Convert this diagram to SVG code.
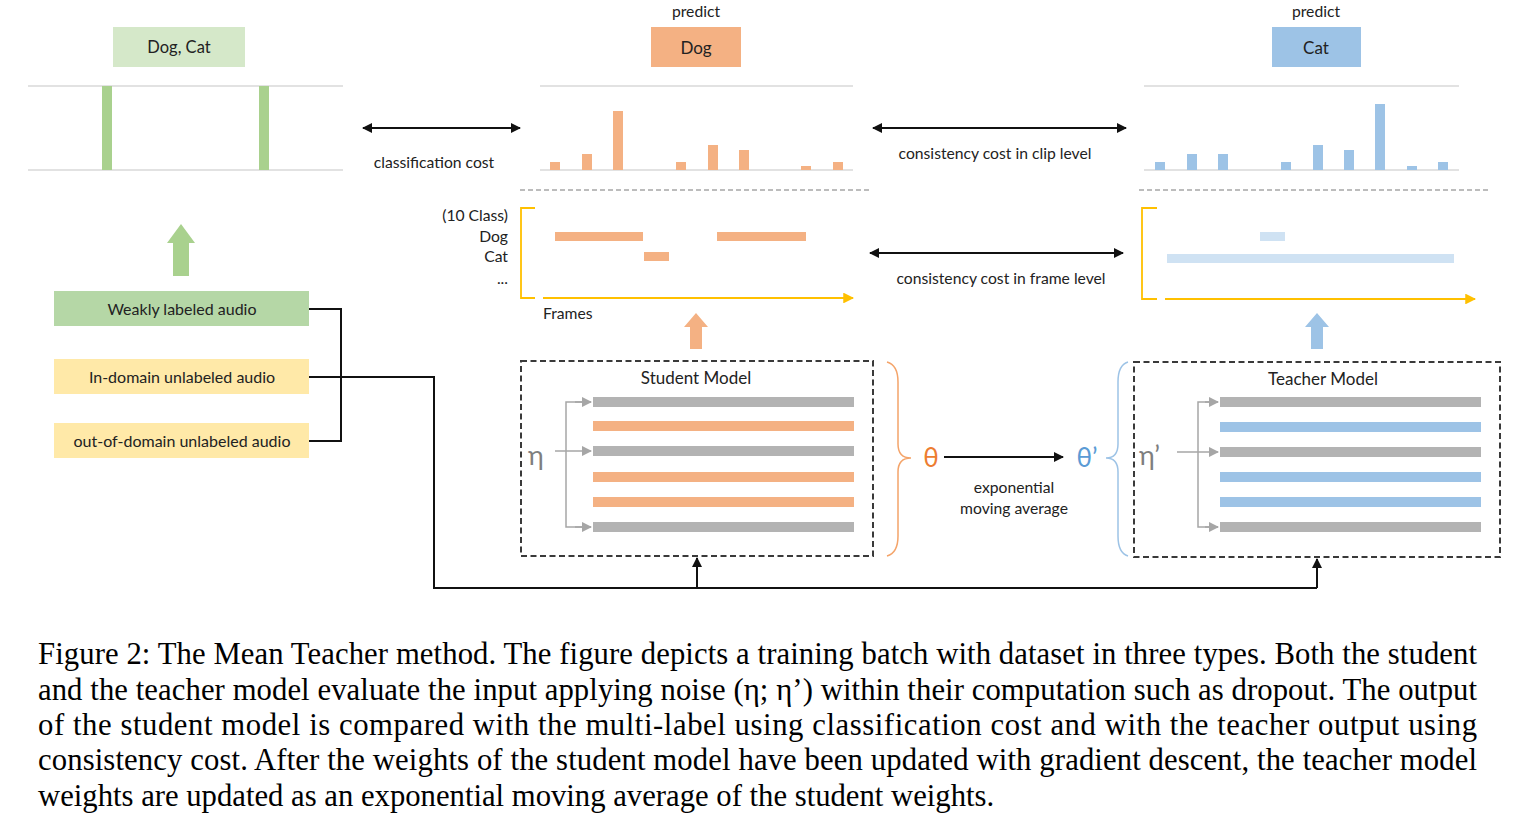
<svg xmlns="http://www.w3.org/2000/svg" width="1523" height="831" viewBox="0 0 1523 831">
<style>
.t{font-family:Lato,"Liberation Sans",sans-serif;fill:#222}
.s{font-size:15.7px}
.cap{font-family:"Liberation Serif","Times New Roman",serif;font-size:30.7px;fill:#000}
.axis{stroke:#d9d9d9;stroke-width:1.5}
.g{fill:#a9d18e}
.o{fill:#f4b183}
.b{fill:#9dc3e6}
.lb{fill:#cfe2f3}
.gray{fill:#b3b3b3}
.dash{fill:none;stroke:#3a3a3a;stroke-width:2;stroke-dasharray:6 3.5}
.sep{stroke:#a6a6a6;stroke-width:1.5;stroke-dasharray:5 3}
.yel{fill:none;stroke:#ffc000;stroke-width:1.8}
.noise{fill:none;stroke:#a6a6a6;stroke-width:1.5}
.con{fill:none;stroke:#111;stroke-width:2}
</style>
<defs>
<marker id="ah" viewBox="0 0 10 10" refX="9" refY="5" markerWidth="5" markerHeight="5" orient="auto-start-reverse"><path d="M0,0 L10,5 L0,10 z" fill="#111"/></marker>
<marker id="ahy" viewBox="0 0 10 10" refX="9" refY="5" markerWidth="6" markerHeight="6" orient="auto"><path d="M0,0 L10,5 L0,10 z" fill="#ffc000"/></marker>
<marker id="ahg" viewBox="0 0 10 10" refX="9" refY="5" markerWidth="7" markerHeight="7" orient="auto"><path d="M0,0 L10,5 L0,10 z" fill="#a6a6a6"/></marker>
</defs>
<rect width="1523" height="831" fill="#fff"/>

<!-- Label (ground truth) -->
<g id="label-dogcat">
<rect x="113" y="27" width="132" height="40" fill="#d5e8c9"/>
<text class="t" x="179" y="53" font-size="16.5" text-anchor="middle">Dog, Cat</text>
</g>
<g id="label-chart">
<line class="axis" x1="28" y1="86" x2="343" y2="86"/>
<line class="axis" x1="28" y1="170" x2="343" y2="170"/>
<rect class="g" x="102" y="86" width="10" height="84"/>
<rect class="g" x="259" y="86" width="10" height="84"/>
</g>
<g id="green-up-arrow">
<path class="g" d="M181,224 L195,243 L189,243 L189,276 L173,276 L173,243 L167,243 z"/>
</g>

<!-- Inputs -->
<g id="weakly">
<rect x="54" y="291" width="255" height="35" fill="#b5d7a6"/>
<text class="t" x="182" y="315" font-size="16" text-anchor="middle">Weakly labeled audio</text>
</g>
<g id="in-domain">
<rect x="54" y="359" width="255" height="35" fill="#ffe9a8"/>
<text class="t" x="182" y="383" font-size="16" text-anchor="middle">In-domain unlabeled audio</text>
</g>
<g id="out-domain">
<rect x="54" y="423" width="255" height="35" fill="#ffe9a8"/>
<text class="t" x="182" y="447" font-size="16" text-anchor="middle">out-of-domain unlabeled audio</text>
</g>

<!-- Student prediction -->
<g id="student-predict">
<text class="t s" x="696" y="17" text-anchor="middle">predict</text>
<rect class="o" x="651" y="27" width="90" height="40"/>
<text class="t" x="696" y="54" font-size="17" text-anchor="middle">Dog</text>
</g>
<g id="student-clip">
<line class="axis" x1="540" y1="86" x2="853" y2="86"/>
<line class="axis" x1="540" y1="170" x2="853" y2="170"/>
<rect class="o" x="550" y="162" width="10" height="8"/>
<rect class="o" x="582" y="154" width="10" height="16"/>
<rect class="o" x="613" y="111" width="10" height="59"/>
<rect class="o" x="676" y="162" width="10" height="8"/>
<rect class="o" x="708" y="145" width="10" height="25"/>
<rect class="o" x="739" y="150" width="10" height="20"/>
<rect class="o" x="801" y="166" width="10" height="4"/>
<rect class="o" x="833" y="162" width="10" height="8"/>
<line class="sep" x1="520" y1="190" x2="870" y2="190"/>
</g>
<g id="student-frame">
<text class="t s" x="508" y="221" text-anchor="end">(10 Class)</text>
<text class="t s" x="508" y="242" text-anchor="end">Dog</text>
<text class="t s" x="508" y="262" text-anchor="end">Cat</text>
<text class="t s" x="508" y="284" text-anchor="end">...</text>
<path class="yel" d="M535,208 L521,208 L521,298 L535,298"/>
<line class="yel" x1="543" y1="298" x2="853" y2="298" marker-end="url(#ahy)"/>
<rect class="o" x="555" y="232" width="88" height="9"/>
<rect class="o" x="717" y="232" width="89" height="9"/>
<rect class="o" x="644" y="252" width="25" height="9"/>
<text class="t s" x="543" y="319">Frames</text>
</g>
<g id="orange-up-arrow">
<path class="o" d="M696,313 L708,327 L702,327 L702,349 L690,349 L690,327 L684,327 z"/>
</g>

<!-- Teacher prediction -->
<g id="teacher-predict">
<text class="t s" x="1316" y="17" text-anchor="middle">predict</text>
<rect class="b" x="1272" y="27" width="89" height="40"/>
<text class="t" x="1316" y="54" font-size="17" text-anchor="middle">Cat</text>
</g>
<g id="teacher-clip">
<line class="axis" x1="1144" y1="86" x2="1459" y2="86"/>
<line class="axis" x1="1144" y1="170" x2="1459" y2="170"/>
<rect class="b" x="1155" y="162" width="10" height="8"/>
<rect class="b" x="1187" y="154" width="10" height="16"/>
<rect class="b" x="1218" y="154" width="10" height="16"/>
<rect class="b" x="1281" y="162" width="10" height="8"/>
<rect class="b" x="1313" y="145" width="10" height="25"/>
<rect class="b" x="1344" y="150" width="10" height="20"/>
<rect class="b" x="1375" y="104" width="10" height="66"/>
<rect class="b" x="1407" y="166" width="10" height="4"/>
<rect class="b" x="1438" y="162" width="10" height="8"/>
<line class="sep" x1="1139" y1="190" x2="1488" y2="190"/>
</g>
<g id="teacher-frame">
<path class="yel" d="M1157,208 L1142,208 L1142,299 L1157,299"/>
<line class="yel" x1="1165" y1="299" x2="1475" y2="299" marker-end="url(#ahy)"/>
<rect class="lb" x="1260" y="232" width="25" height="9"/>
<rect class="lb" x="1167" y="254" width="287" height="9"/>
</g>
<g id="blue-up-arrow">
<path class="b" d="M1317,313 L1329,327 L1323,327 L1323,349 L1311,349 L1311,327 L1305,327 z"/>
</g>

<!-- Student model -->
<g id="student-model">
<rect class="dash" x="521" y="361" width="352" height="195"/>
<text class="t" x="696" y="384" font-size="17" text-anchor="middle">Student Model</text>
<rect class="gray" x="593" y="397" width="261" height="10"/>
<rect class="o" x="593" y="421" width="261" height="10"/>
<rect class="gray" x="593" y="446" width="261" height="10"/>
<rect class="o" x="593" y="472" width="261" height="10"/>
<rect class="o" x="593" y="497" width="261" height="10"/>
<rect class="gray" x="593" y="522" width="261" height="10"/>
<text x="536" y="465" font-family="Lato,'DejaVu Sans',sans-serif" font-size="27" fill="#7f7f7f" text-anchor="middle">η</text>
<line class="noise" x1="555" y1="451" x2="591" y2="451" marker-end="url(#ahg)"/>
<path class="noise" d="M591,402 L566,402 L566,527 L591,527"/>
<line class="noise" x1="575" y1="402" x2="591" y2="402" marker-end="url(#ahg)"/>
<line class="noise" x1="575" y1="527" x2="591" y2="527" marker-end="url(#ahg)"/>
<path d="M887,362 Q898,365 898,382 L898,444 Q898,458 911,458 Q898,458 898,472 L898,536 Q898,553 887,556" fill="none" stroke="#f4a46a" stroke-width="1.5"/>
<text x="931" y="467" font-family="Lato,'DejaVu Sans',sans-serif" font-size="26" fill="#ed7d31" text-anchor="middle">θ</text>
</g>

<!-- Teacher model -->
<g id="teacher-model">
<rect class="dash" x="1134" y="362" width="366" height="195"/>
<text class="t" x="1323" y="385" font-size="17" text-anchor="middle">Teacher Model</text>
<rect class="gray" x="1220" y="397" width="261" height="10"/>
<rect class="b" x="1220" y="422" width="261" height="10"/>
<rect class="gray" x="1220" y="447" width="261" height="10"/>
<rect class="b" x="1220" y="472" width="261" height="10"/>
<rect class="b" x="1220" y="497" width="261" height="10"/>
<rect class="gray" x="1220" y="522" width="261" height="10"/>
<text x="1139" y="465" font-family="Lato,'DejaVu Sans',sans-serif" font-size="27" fill="#7f7f7f">η’</text>
<line class="noise" x1="1177" y1="452" x2="1218" y2="452" marker-end="url(#ahg)"/>
<path class="noise" d="M1218,402 L1198,402 L1198,527 L1218,527"/>
<line class="noise" x1="1205" y1="402" x2="1218" y2="402" marker-end="url(#ahg)"/>
<line class="noise" x1="1205" y1="527" x2="1218" y2="527" marker-end="url(#ahg)"/>
<path d="M1128,362 Q1118,365 1118,382 L1118,444 Q1118,458 1106,458 Q1118,458 1118,472 L1118,536 Q1118,553 1128,556" fill="none" stroke="#9dc3e6" stroke-width="1.5"/>
<text x="1087" y="467" font-family="Lato,'DejaVu Sans',sans-serif" font-size="26" fill="#5b9bd5" text-anchor="middle">θ’</text>
</g>

<!-- Connectors -->
<g id="connectors">
<line class="con" x1="363" y1="128" x2="520" y2="128" marker-start="url(#ah)" marker-end="url(#ah)"/>
<line class="con" x1="873" y1="128" x2="1126" y2="128" marker-start="url(#ah)" marker-end="url(#ah)"/>
<line class="con" x1="870" y1="253" x2="1123" y2="253" marker-start="url(#ah)" marker-end="url(#ah)"/>
<line class="con" x1="944" y1="457" x2="1063" y2="457" marker-end="url(#ah)"/>
<path class="con" d="M309,309 L341,309 L341,441 L309,441"/>
<path class="con" d="M309,377 L434,377 L434,588 L1317,588"/>
<line class="con" x1="697" y1="588" x2="697" y2="558" marker-end="url(#ah)"/>
<line class="con" x1="1317" y1="588" x2="1317" y2="559" marker-end="url(#ah)"/>
</g>

<!-- Connector labels -->
<g id="connector-labels">
<text class="t s" x="434" y="168" text-anchor="middle">classification cost</text>
<text class="t s" x="995" y="159" text-anchor="middle">consistency cost in clip level</text>
<text class="t s" x="1001" y="284" text-anchor="middle">consistency cost in frame level</text>
<text class="t s" x="1014" y="493" text-anchor="middle">exponential</text>
<text class="t s" x="1014" y="514" text-anchor="middle">moving average</text>
</g>

<!-- Caption -->
<g id="caption">
<text class="cap" x="38" y="664" textLength="1439" lengthAdjust="spacing">Figure 2: The Mean Teacher method. The figure depicts a training batch with dataset in three types. Both the student</text>
<text class="cap" x="38" y="700" textLength="1439" lengthAdjust="spacing">and the teacher model evaluate the input applying noise (η; η’) within their computation such as dropout. The output</text>
<text class="cap" x="38" y="735" textLength="1439" lengthAdjust="spacing">of the student model is compared with the multi-label using classification cost and with the teacher output using</text>
<text class="cap" x="38" y="770" textLength="1439" lengthAdjust="spacing">consistency cost. After the weights of the student model have been updated with gradient descent, the teacher model</text>
<text class="cap" x="38" y="806">weights are updated as an exponential moving average of the student weights.</text>
</g>
</svg>
